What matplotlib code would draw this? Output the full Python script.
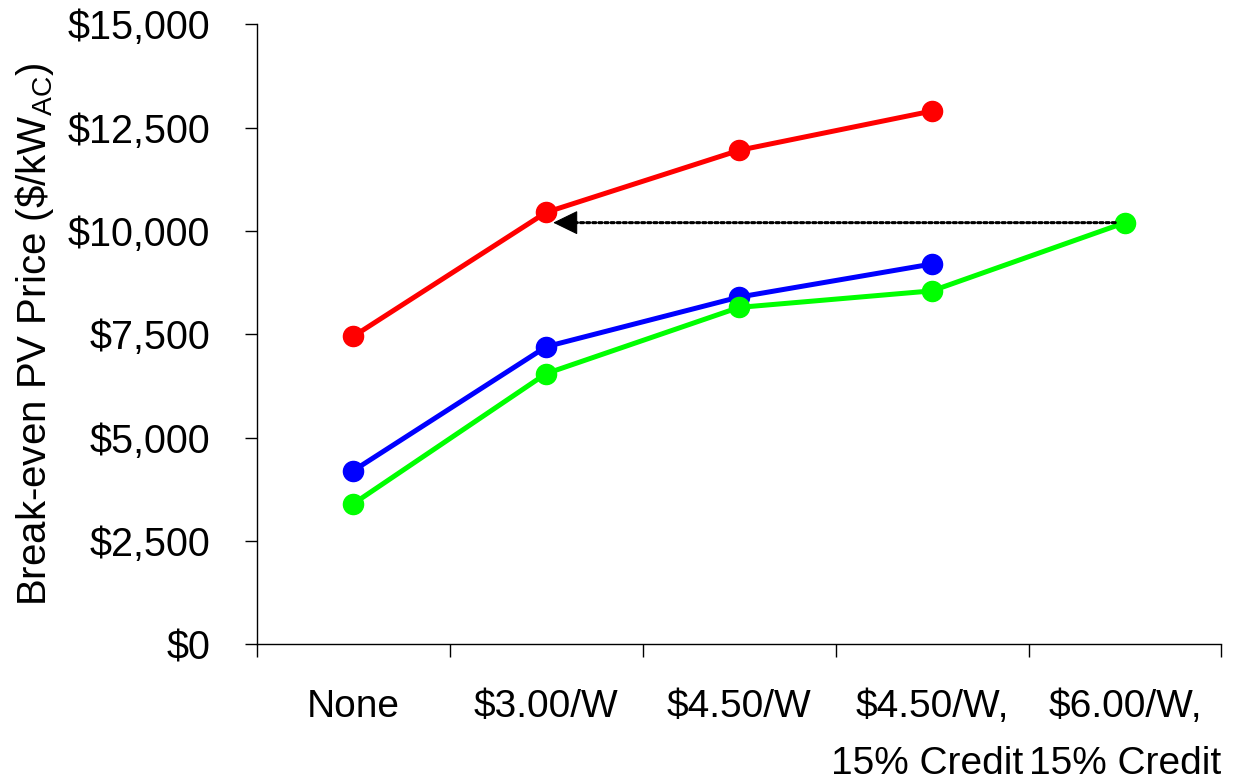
import matplotlib
matplotlib.use("Agg")
import matplotlib.pyplot as plt
from matplotlib.ticker import FixedLocator, FuncFormatter

plt.rcParams['font.family'] = ['Liberation Sans', 'DejaVu Sans']
plt.rcParams['mathtext.fontset'] = 'custom'
plt.rcParams['mathtext.rm'] = 'Liberation Sans'
plt.rcParams['mathtext.it'] = 'Liberation Sans'

# Incentive scenarios along the x axis
categories = ["None", "$3.00/W", "$4.50/W", "$4.50/W,\n15% Credit ", "$6.00/W,\n15% Credit"]

# Break-even PV price ($/kW_AC) for each series
red_values = [7450, 10450, 11950, 12900]
blue_values = [4200, 7200, 8400, 9200]
green_values = [3400, 6550, 8150, 8550, 10200]

y_ticks = [0, 2500, 5000, 7500, 10000, 12500, 15000]

fig = plt.figure(figsize=(12.35, 7.81), dpi=100)
ax = fig.add_axes([0.208, 0.175, 0.781, 0.794])

line_kw = dict(lw=3.6, marker='o', markersize=14.5, solid_capstyle='round', zorder=3)
ax.plot(range(len(red_values)), red_values, color='#FF0000', **line_kw)
ax.plot(range(len(blue_values)), blue_values, color='#0000FF', **line_kw)
ax.plot(range(len(green_values)), green_values, color='#00FF00', **line_kw)

# Dotted arrow from the last green point back toward the $3.00/W scenario
arrow_y = green_values[-1]
ax.annotate('', xy=(1, arrow_y), xytext=(len(green_values) - 1, arrow_y),
            arrowprops=dict(arrowstyle='-', color='black', lw=2.2,
                            linestyle=(0, (1, 1)), shrinkA=7, shrinkB=20),
            zorder=4)
ax.annotate('', xy=(1, arrow_y), xytext=(22, 0), textcoords='offset points',
            arrowprops=dict(arrowstyle='-|>,head_length=1.6,head_width=0.78',
                            color='black', lw=0.8, shrinkA=0, shrinkB=5),
            zorder=4)

ax.set_xlim(-0.5, len(categories) - 0.5)
ax.set_ylim(0, 15000)

ax.xaxis.set_major_locator(FixedLocator(range(len(categories))))
ax.set_xticklabels(categories, fontsize=28, linespacing=1.75)
ax.xaxis.set_minor_locator(FixedLocator([i - 0.5 for i in range(len(categories) + 1)]))
ax.tick_params(axis='x', which='major', length=0, pad=32)
ax.tick_params(axis='x', which='minor', length=9.5, width=1, direction='out')

ax.yaxis.set_major_locator(FixedLocator(y_ticks))
ax.yaxis.set_major_formatter(FuncFormatter(lambda v, p: "${:,.0f}".format(v)))
ax.tick_params(axis='y', which='major', labelsize=28.5, length=8.6, width=1,
               direction='out', pad=25)

ax.spines['top'].set_visible(False)
ax.spines['right'].set_visible(False)
ax.spines['left'].set_linewidth(1)
ax.spines['bottom'].set_linewidth(1)

ax.set_ylabel(r'Break-even PV Price (\$/kW$_{\mathrm{AC}}$)', fontsize=29, labelpad=8)

fig.savefig('out.png', dpi=100)
